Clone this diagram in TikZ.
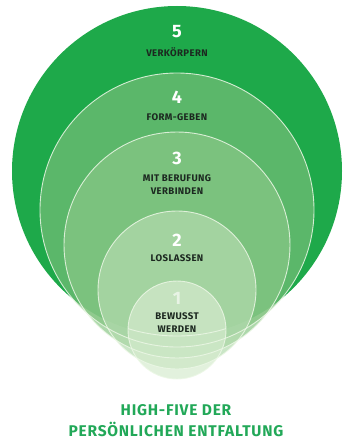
\documentclass[tikz,border=0pt]{standalone}
\usepackage{fontspec}
\setmainfont{Fira Sans}
\definecolor{cfive}{RGB}{30,169,74}
\definecolor{cfour}{RGB}{117,190,120}
\definecolor{cthree}{RGB}{138,200,135}
\definecolor{ctwo}{RGB}{180,219,175}
\definecolor{cone}{RGB}{213,235,206}
\definecolor{labc}{RGB}{28,40,32}
\definecolor{titlec}{RGB}{34,168,88}
\definecolor{edgec}{RGB}{236,247,230}
\begin{document}
\begin{tikzpicture}[x=1pt,y=-1pt,
  ring/.style={fill opacity=0.7},
  edge/.style={draw=edgec, draw opacity=0.85, line width=0.9pt},
  num/.style={text=white, font=\fontsize{18}{18}\selectfont\bfseries, inner sep=0pt},
  lab/.style={text=labc, font=\fontsize{9.6}{12.5}\selectfont\bfseries\addfontfeatures{LetterSpace=4}, align=center, inner sep=0pt},
  ttl/.style={text=titlec, font=\fontsize{15.5}{19}\selectfont\bfseries\addfontfeatures{LetterSpace=5}, inner sep=0pt}]
\useasboundingbox (0,0) rectangle (345,441);
% fills
\fill[cfive] (177,171) circle[radius=165pt];
\fill[cfour, ring] (177,210) circle[radius=137pt];
\fill[cthree, ring] (177,245) circle[radius=113pt];
\fill[ctwo, ring] (177,290) circle[radius=79pt];
\fill[cone, ring] (177,330) circle[radius=49pt];
% outlines
\draw[edge] (177,210) circle[radius=137pt];
\draw[edge] (177,245) circle[radius=113pt];
\draw[edge] (177,290) circle[radius=79pt];
\draw[edge] (177,330) circle[radius=49pt];
\begin{scope}
\clip (177,330) circle[radius=49pt];
\draw[edge] (177,171) circle[radius=165pt];
\end{scope}
% texts
\node[num] (n5) at (177,32) {5};
\node[lab] (l5) at (177,52) {VERKÖRPERN};
\node[num] (n4) at (177,97) {4};
\node[lab] (l4) at (177,117) {FORM-GEBEN};
\node[num] (n3) at (177,158) {3};
\node[lab] (l3) at (177,184.5) {MIT BERUFUNG\\VERBINDEN};
\node[num] (n2) at (177,240) {2};
\node[lab] (l2) at (177,258) {LOSLASSEN};
\node[num, text opacity=0.6] (n1) at (177,298) {1};
\node[lab] (l1) at (177,322.5) {BEWUSST\\WERDEN};
\node[ttl] (t1) at (176,410.5) {HIGH-FIVE DER};
\node[ttl] (t2) at (176,429.5) {PERSÖNLICHEN ENTFALTUNG};
\end{tikzpicture}
\end{document}
